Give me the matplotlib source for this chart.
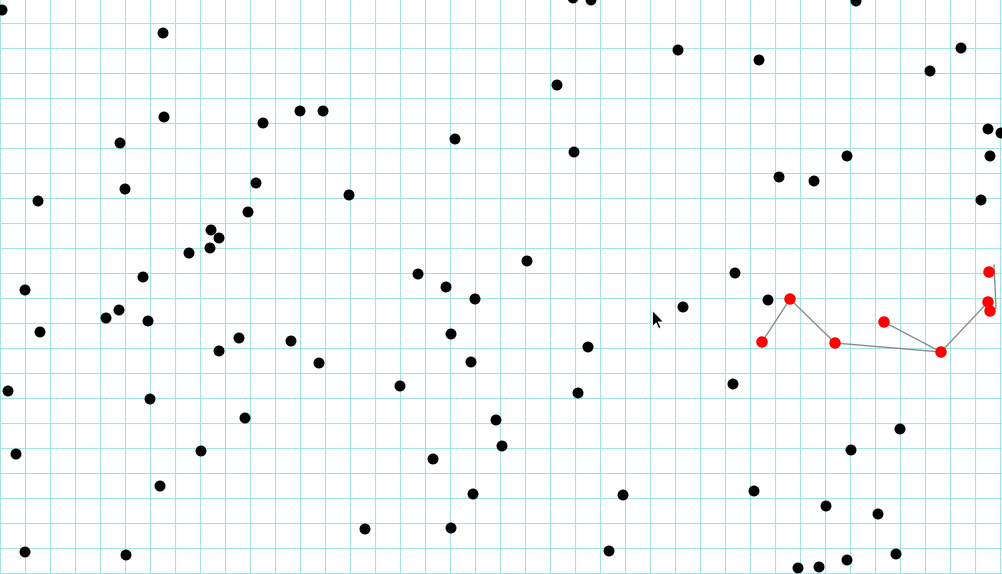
import matplotlib
matplotlib.use("Agg")
import matplotlib.pyplot as plt
from matplotlib.path import Path
import numpy as np

# black points (pixel coordinates of the canvas)
dot_x = [2, 163, 164, 120, 263, 300, 323, 125, 38, 256, 248, 211, 219, 210, 189, 143, 25,
         573, 591, 557, 455, 574, 349, 527, 418, 446,
         856, 678, 759, 961, 930, 988, 1001, 847, 990, 779, 814, 981, 735,
         119, 106, 148, 40, 239, 219, 291, 319, 8, 150, 245, 16, 201, 160, 25, 126,
         475, 451, 588, 471, 400, 578, 496, 502, 433, 473, 623, 365, 451, 609,
         683, 768, 733, 900, 851, 754, 826, 878, 896, 847, 819, 798]
dot_y = [10, 33, 117, 143, 123, 111, 111, 189, 201, 183, 212, 230, 238, 248, 253, 277, 290,
         -2, 0, 85, 139, 152, 195, 261, 274, 287,
         1, 50, 60, 48, 71, 129, 133, 156, 156, 177, 181, 200, 273,
         310, 318, 321, 332, 338, 351, 341, 363, 391, 399, 418, 454, 451, 486, 552, 555,
         299, 334, 347, 362, 386, 393, 420, 446, 459, 494, 495, 529, 528, 551,
         307, 300, 384, 429, 450, 491, 506, 514, 554, 560, 567, 568]

# red selected points and the links between them
red_x = [762, 790, 835, 884, 941, 988, 990, 989]
red_y = [342, 299, 343, 322, 352, 302, 311, 272]
links = [(0, 1), (1, 2), (2, 4), (3, 4), (4, 5)]
tail_x = [994, 996, 990]
tail_y = [265, 308, 311]

cursor_pos = (652, 310)

W, H = 1002, 574
fig = plt.figure(figsize=(W / 100, H / 100), dpi=100)
ax = fig.add_axes([0, 0, 1, 1])
ax.set_xlim(0, W)
ax.set_ylim(H, 0)
ax.axis("off")

grid_col = "#a3e6e1"
for gx in np.arange(0, W + 1, 25):
    ax.axvline(gx, color=grid_col, lw=0.8, zorder=0)
for gy in np.arange(23, H + 1, 25):
    ax.axhline(gy, color=grid_col, lw=0.8, zorder=0)

for a, b in links:
    ax.plot([red_x[a], red_x[b]], [red_y[a], red_y[b]], color="#8c8c8c", lw=1.0, zorder=2)
ax.plot(tail_x, tail_y, color="#8c8c8c", lw=1.0, zorder=2)

ax.scatter(dot_x, dot_y, s=62, color="black", edgecolors="none", zorder=3)
ax.scatter(red_x, red_y, s=68, color="#ff0000", edgecolors="none", zorder=4)

# mouse pointer
arrow = Path([(0, 0), (0, -16), (3.6, -12.4), (6.2, -18), (8.4, -17), (5.8, -11.4), (11, -11.4), (0, 0)],
             [Path.MOVETO] + [Path.LINETO] * 6 + [Path.CLOSEPOLY])
ax.plot([cursor_pos[0]], [cursor_pos[1]], marker=arrow, markersize=26, color="black",
        markeredgecolor="white", markeredgewidth=0.6, zorder=5)

fig.savefig("out.png", dpi=100)
